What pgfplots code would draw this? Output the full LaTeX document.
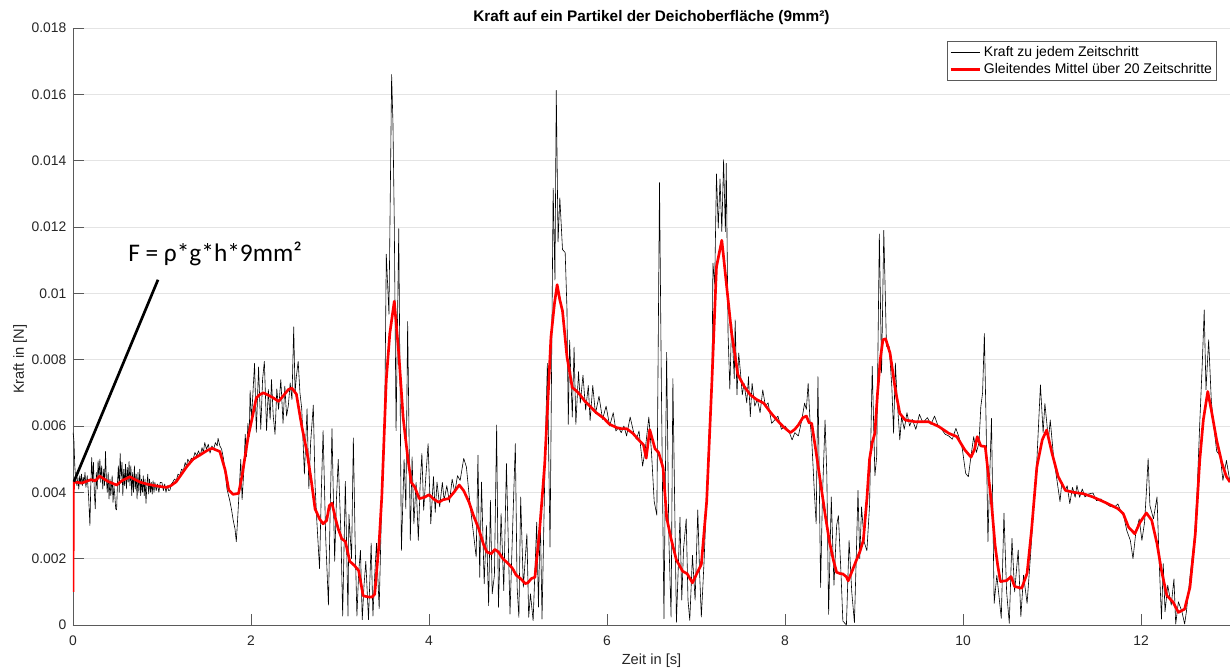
\documentclass[border=0pt]{standalone}
\usepackage{fontspec}
\setmainfont{Liberation Sans}
\newfontfamily\calibri{Carlito}
\usepackage{pgfplots}
\pgfplotsset{compat=1.18}
\usetikzlibrary{calc}

\definecolor{axgray}{RGB}{90,90,90}
\definecolor{txtgray}{RGB}{38,38,38}
\definecolor{gridgray}{RGB}{228,228,228}
\definecolor{mred}{RGB}{255,0,0}

% force per time step (black) and moving average over 20 steps (red)
\pgfplotstableread{
x y
0.000 0.00580
0.010 0.00560
0.020 0.00480
0.030 0.00440
0.045 0.00420
0.055 0.00445
0.065 0.00410
0.075 0.00450
0.085 0.00425
0.095 0.00455
0.105 0.00420
0.115 0.00445
0.125 0.00430
0.135 0.00460
0.145 0.00415
0.160 0.00450
0.175 0.00390
0.190 0.00300
0.200 0.00420
0.210 0.00505
0.220 0.00430
0.230 0.00490
0.240 0.00400
0.250 0.00350
0.262 0.00460
0.272 0.00410
0.282 0.00495
0.292 0.00440
0.302 0.00500
0.312 0.00430
0.322 0.00480
0.335 0.00410
0.345 0.00470
0.355 0.00420
0.365 0.00523
0.375 0.00440
0.385 0.00400
0.395 0.00460
0.405 0.00380
0.415 0.00440
0.425 0.00390
0.440 0.00450
0.450 0.00370
0.460 0.00420
0.470 0.00390
0.480 0.00350
0.490 0.00347
0.500 0.00430
0.510 0.00480
0.520 0.00400
0.530 0.00518
0.540 0.00440
0.550 0.00490
0.560 0.00390
0.570 0.00470
0.580 0.00420
0.590 0.00485
0.600 0.00410
0.610 0.00475
0.620 0.00430
0.630 0.00493
0.640 0.00420
0.650 0.00480
0.660 0.00390
0.670 0.00460
0.680 0.00400
0.690 0.00480
0.700 0.00410
0.710 0.00455
0.720 0.00380
0.730 0.00460
0.740 0.00400
0.750 0.00470
0.760 0.00390
0.770 0.00440
0.780 0.00400
0.790 0.00450
0.800 0.00390
0.810 0.00440
0.820 0.00367
0.830 0.00420
0.840 0.00455
0.850 0.00395
0.860 0.00440
0.870 0.00400
0.880 0.00430
0.890 0.00395
0.900 0.00435
0.910 0.00400
0.920 0.00430
0.935 0.00405
0.950 0.00425
0.965 0.00400
0.980 0.00430
1.000 0.00429
1.015 0.00405
1.030 0.00425
1.045 0.00400
1.060 0.00420
1.075 0.00405
1.090 0.00407
1.105 0.00425
1.120 0.00430
1.140 0.00440
1.160 0.00435
1.180 0.00455
1.200 0.00450
1.220 0.00470
1.240 0.00465
1.260 0.00490
1.275 0.00478
1.290 0.00500
1.310 0.00490
1.330 0.00503
1.350 0.00500
1.370 0.00520
1.390 0.00510
1.410 0.00525
1.430 0.00510
1.450 0.00535
1.465 0.00520
1.480 0.00550
1.500 0.00530
1.520 0.00545
1.540 0.00518
1.560 0.00540
1.580 0.00530
1.600 0.00550
1.620 0.00540
1.630 0.00563
1.650 0.00540
1.670 0.00530
1.690 0.00503
1.710 0.00460
1.730 0.00410
1.760 0.00377
1.780 0.00350
1.800 0.00316
1.820 0.00290
1.835 0.00251
1.850 0.00320
1.870 0.00420
1.885 0.00499
1.900 0.00378
1.920 0.00468
1.935 0.00575
1.950 0.00508
1.965 0.00608
1.980 0.00568
1.990 0.00707
2.005 0.00619
2.040 0.00789
2.060 0.00581
2.085 0.00778
2.110 0.00590
2.130 0.00740
2.150 0.00795
2.175 0.00586
2.195 0.00710
2.215 0.00620
2.230 0.00740
2.250 0.00630
2.270 0.00575
2.290 0.00712
2.310 0.00650
2.335 0.00740
2.360 0.00608
2.380 0.00720
2.400 0.00630
2.420 0.00663
2.440 0.00730
2.460 0.00680
2.480 0.00899
2.495 0.00700
2.510 0.00750
2.530 0.00795
2.550 0.00700
2.570 0.00652
2.600 0.00455
2.630 0.00652
2.650 0.00411
2.670 0.00550
2.700 0.00663
2.720 0.00420
2.740 0.00312
2.770 0.00170
2.790 0.00400
2.810 0.00586
2.840 0.00258
2.870 0.00060
2.890 0.00350
2.910 0.00592
2.940 0.00192
2.960 0.00380
2.980 0.00499
3.010 0.00279
3.030 0.00027
3.060 0.00433
3.090 0.00027
3.100 0.00334
3.130 0.00200
3.150 0.00564
3.170 0.00250
3.190 0.00027
3.210 0.00160
3.230 0.00225
3.250 0.00016
3.270 0.00120
3.290 0.00192
3.320 0.00016
3.350 0.00247
3.370 0.00027
3.390 0.00150
3.410 0.00247
3.440 0.00049
3.470 0.00389
3.500 0.00548
3.520 0.01118
3.550 0.00937
3.580 0.01660
3.595 0.01512
3.610 0.01211
3.630 0.00586
3.660 0.01195
3.690 0.00225
3.720 0.00499
3.740 0.00350
3.760 0.00915
3.790 0.00255
3.810 0.00507
3.830 0.00305
3.855 0.00430
3.880 0.00255
3.900 0.00420
3.920 0.00517
3.940 0.00346
3.965 0.00450
3.990 0.00547
4.020 0.00305
4.050 0.00447
4.070 0.00340
4.090 0.00431
4.120 0.00356
4.150 0.00430
4.170 0.00376
4.200 0.00420
4.230 0.00370
4.260 0.00440
4.290 0.00400
4.320 0.00450
4.350 0.00436
4.390 0.00502
4.420 0.00477
4.460 0.00366
4.500 0.00275
4.530 0.00205
4.550 0.00512
4.570 0.00144
4.590 0.00431
4.620 0.00124
4.645 0.00300
4.670 0.00058
4.690 0.00376
4.710 0.00094
4.735 0.00150
4.760 0.00603
4.780 0.00053
4.810 0.00336
4.840 0.00104
4.870 0.00487
4.910 0.00033
4.940 0.00295
4.970 0.00547
4.990 0.00114
5.010 0.00023
5.030 0.00386
5.060 0.00114
5.100 0.00275
5.120 0.00023
5.140 0.00094
5.170 0.00013
5.210 0.00310
5.230 0.00054
5.250 0.00336
5.270 0.00018
5.310 0.00578
5.330 0.00789
5.360 0.00235
5.380 0.00860
5.395 0.01317
5.415 0.01040
5.430 0.01612
5.450 0.01155
5.470 0.01288
5.500 0.01132
5.530 0.01123
5.550 0.00954
5.565 0.00605
5.580 0.00859
5.610 0.00627
5.630 0.00838
5.650 0.00605
5.680 0.00764
5.700 0.00669
5.730 0.00753
5.760 0.00648
5.790 0.00722
5.810 0.00616
5.840 0.00722
5.870 0.00637
5.910 0.00690
5.950 0.00620
5.990 0.00660
6.030 0.00600
6.070 0.00640
6.100 0.00585
6.130 0.00595
6.160 0.00580
6.190 0.00600
6.220 0.00570
6.260 0.00627
6.300 0.00580
6.330 0.00560
6.360 0.00585
6.400 0.00479
6.430 0.00530
6.470 0.00627
6.500 0.00520
6.530 0.00373
6.560 0.00331
6.590 0.01334
6.610 0.00743
6.640 0.00019
6.670 0.00822
6.695 0.00260
6.720 0.00024
6.740 0.00743
6.780 0.00008
6.820 0.00325
6.840 0.00075
6.860 0.00230
6.890 0.00320
6.910 0.00075
6.930 0.00014
6.960 0.00210
6.990 0.00075
7.020 0.00347
7.040 0.00160
7.060 0.00024
7.090 0.00188
7.120 0.00394
7.150 0.00595
7.180 0.00743
7.190 0.01091
7.210 0.01028
7.230 0.01360
7.250 0.01197
7.270 0.01345
7.290 0.01186
7.310 0.01403
7.330 0.01186
7.340 0.01392
7.360 0.00880
7.380 0.00711
7.400 0.00912
7.430 0.00743
7.440 0.00920
7.460 0.00694
7.480 0.00820
7.500 0.00760
7.520 0.00694
7.540 0.00729
7.570 0.00670
7.590 0.00749
7.610 0.00628
7.630 0.00729
7.660 0.00660
7.690 0.00680
7.720 0.00640
7.750 0.00709
7.780 0.00660
7.810 0.00670
7.850 0.00608
7.890 0.00620
7.920 0.00630
7.960 0.00590
8.000 0.00600
8.050 0.00580
8.080 0.00558
8.110 0.00580
8.150 0.00570
8.190 0.00620
8.220 0.00669
8.240 0.00650
8.260 0.00729
8.280 0.00620
8.300 0.00560
8.330 0.00400
8.350 0.00305
8.370 0.00749
8.400 0.00113
8.420 0.00380
8.450 0.00618
8.470 0.00451
8.490 0.00032
8.520 0.00386
8.550 0.00120
8.580 0.00300
8.600 0.00330
8.630 0.00150
8.650 0.00012
8.690 0.00000
8.720 0.00255
8.750 0.00100
8.780 0.00007
8.800 0.00200
8.820 0.00406
8.840 0.00200
8.860 0.00356
8.890 0.00250
8.920 0.00224
8.950 0.00360
8.980 0.00780
9.010 0.00450
9.030 0.00507
9.060 0.01179
9.085 0.00760
9.110 0.01190
9.140 0.00840
9.170 0.00840
9.200 0.00720
9.220 0.00578
9.240 0.00790
9.260 0.00680
9.290 0.00558
9.310 0.00628
9.340 0.00590
9.370 0.00640
9.400 0.00600
9.430 0.00620
9.470 0.00590
9.510 0.00635
9.550 0.00610
9.600 0.00625
9.640 0.00605
9.680 0.00630
9.720 0.00600
9.760 0.00590
9.800 0.00575
9.840 0.00570
9.880 0.00560
9.920 0.00593
9.950 0.00570
9.990 0.00535
10.030 0.00457
10.060 0.00447
10.090 0.00510
10.120 0.00568
10.150 0.00520
10.180 0.00550
10.200 0.00658
10.220 0.00700
10.240 0.00879
10.260 0.00600
10.280 0.00251
10.300 0.00450
10.320 0.00623
10.350 0.00065
10.380 0.00150
10.430 0.00020
10.460 0.00337
10.490 0.00100
10.520 0.00005
10.550 0.00261
10.580 0.00100
10.620 0.00226
10.650 0.00025
10.680 0.00150
10.720 0.00065
10.760 0.00216
10.800 0.00380
10.830 0.00497
10.870 0.00724
10.900 0.00580
10.920 0.00668
10.960 0.00558
10.980 0.00618
11.020 0.00500
11.050 0.00447
11.090 0.00372
11.110 0.00430
11.150 0.00406
11.170 0.00420
11.200 0.00366
11.230 0.00415
11.260 0.00385
11.280 0.00421
11.310 0.00385
11.340 0.00410
11.370 0.00386
11.410 0.00395
11.460 0.00398
11.500 0.00375
11.550 0.00380
11.600 0.00367
11.650 0.00358
11.700 0.00355
11.740 0.00365
11.770 0.00345
11.800 0.00336
11.840 0.00285
11.880 0.00255
11.910 0.00200
11.940 0.00275
11.980 0.00320
12.010 0.00255
12.040 0.00310
12.060 0.00400
12.080 0.00502
12.100 0.00360
12.140 0.00320
12.180 0.00386
12.200 0.00220
12.230 0.00018
12.250 0.00185
12.270 0.00040
12.300 0.00120
12.340 0.00060
12.370 0.00139
12.390 0.00003
12.420 0.00070
12.460 0.00040
12.490 0.00003
12.510 0.00040
12.550 0.00145
12.600 0.00264
12.630 0.00400
12.660 0.00608
12.690 0.00800
12.710 0.00950
12.730 0.00709
12.760 0.00860
12.790 0.00675
12.820 0.00595
12.850 0.00524
12.890 0.00510
12.920 0.00436
12.960 0.00496
13.000 0.00430
}\rawforce

\pgfplotstableread{
x y
0.000 0.00100
0.005 0.00430
0.050 0.00430
0.100 0.00428
0.150 0.00433
0.200 0.00438
0.250 0.00435
0.300 0.00449
0.350 0.00440
0.400 0.00432
0.490 0.00422
0.550 0.00435
0.640 0.00447
0.700 0.00438
0.760 0.00430
0.830 0.00425
0.900 0.00421
0.970 0.00418
1.050 0.00415
1.100 0.00420
1.160 0.00432
1.220 0.00455
1.280 0.00478
1.350 0.00500
1.430 0.00513
1.500 0.00525
1.560 0.00533
1.650 0.00523
1.710 0.00467
1.750 0.00407
1.800 0.00394
1.860 0.00397
1.900 0.00450
1.940 0.00520
1.970 0.00570
2.010 0.00620
2.060 0.00685
2.100 0.00695
2.140 0.00700
2.200 0.00692
2.250 0.00685
2.310 0.00674
2.360 0.00690
2.420 0.00710
2.460 0.00714
2.510 0.00696
2.570 0.00600
2.630 0.00520
2.680 0.00430
2.720 0.00350
2.770 0.00320
2.810 0.00305
2.850 0.00315
2.880 0.00360
2.910 0.00367
2.950 0.00320
2.980 0.00290
3.020 0.00260
3.060 0.00252
3.110 0.00192
3.160 0.00180
3.210 0.00164
3.260 0.00088
3.310 0.00085
3.360 0.00084
3.390 0.00093
3.440 0.00250
3.470 0.00389
3.520 0.00740
3.560 0.00880
3.610 0.00976
3.660 0.00820
3.710 0.00624
3.760 0.00508
3.800 0.00430
3.840 0.00416
3.890 0.00381
3.950 0.00385
4.000 0.00393
4.050 0.00380
4.110 0.00370
4.160 0.00378
4.220 0.00381
4.280 0.00400
4.340 0.00422
4.390 0.00405
4.450 0.00370
4.500 0.00330
4.560 0.00289
4.610 0.00245
4.650 0.00220
4.700 0.00215
4.740 0.00228
4.780 0.00220
4.830 0.00200
4.890 0.00185
4.940 0.00170
4.980 0.00150
5.030 0.00140
5.080 0.00125
5.110 0.00127
5.150 0.00140
5.190 0.00144
5.240 0.00277
5.270 0.00380
5.300 0.00485
5.340 0.00700
5.370 0.00867
5.410 0.00970
5.440 0.01026
5.470 0.00980
5.500 0.00947
5.550 0.00809
5.610 0.00716
5.660 0.00705
5.700 0.00693
5.750 0.00675
5.810 0.00659
5.880 0.00640
5.960 0.00624
6.030 0.00605
6.110 0.00595
6.160 0.00592
6.220 0.00592
6.290 0.00578
6.350 0.00560
6.410 0.00543
6.440 0.00503
6.480 0.00589
6.510 0.00560
6.540 0.00531
6.580 0.00520
6.630 0.00474
6.670 0.00324
6.720 0.00260
6.780 0.00196
6.850 0.00162
6.900 0.00155
6.960 0.00127
7.000 0.00150
7.060 0.00183
7.120 0.00373
7.180 0.00743
7.230 0.01080
7.290 0.01160
7.350 0.01007
7.400 0.00880
7.440 0.00810
7.470 0.00755
7.540 0.00720
7.610 0.00694
7.680 0.00680
7.760 0.00669
7.840 0.00640
7.910 0.00618
7.980 0.00598
8.060 0.00580
8.110 0.00590
8.150 0.00603
8.200 0.00625
8.240 0.00630
8.270 0.00610
8.300 0.00608
8.350 0.00520
8.390 0.00446
8.450 0.00335
8.500 0.00250
8.540 0.00200
8.580 0.00159
8.620 0.00155
8.650 0.00154
8.690 0.00145
8.710 0.00133
8.750 0.00160
8.800 0.00194
8.840 0.00220
8.880 0.00255
8.920 0.00380
8.950 0.00500
8.980 0.00550
9.010 0.00578
9.040 0.00700
9.070 0.00800
9.100 0.00860
9.130 0.00863
9.180 0.00820
9.240 0.00709
9.290 0.00638
9.350 0.00618
9.460 0.00613
9.610 0.00613
9.730 0.00598
9.840 0.00578
9.930 0.00568
10.020 0.00528
10.090 0.00506
10.130 0.00530
10.160 0.00568
10.200 0.00540
10.250 0.00538
10.320 0.00367
10.360 0.00241
10.390 0.00180
10.420 0.00131
10.490 0.00134
10.540 0.00146
10.580 0.00116
10.660 0.00111
10.720 0.00156
10.770 0.00286
10.830 0.00477
10.890 0.00558
10.940 0.00588
11.000 0.00518
11.070 0.00447
11.150 0.00406
11.240 0.00400
11.350 0.00396
11.460 0.00386
11.610 0.00368
11.740 0.00351
11.800 0.00336
11.860 0.00295
11.930 0.00275
11.990 0.00310
12.060 0.00338
12.120 0.00316
12.180 0.00245
12.230 0.00164
12.290 0.00089
12.360 0.00069
12.420 0.00038
12.490 0.00048
12.550 0.00114
12.610 0.00275
12.660 0.00497
12.700 0.00618
12.750 0.00704
12.790 0.00648
12.850 0.00557
12.910 0.00487
12.960 0.00447
13.000 0.00431
}\movingavg

\begin{document}
\begin{tikzpicture}
\begin{axis}[
  name=ax,
  scale only axis,
  width=867.75pt, height=447.75pt,
  xmin=0, xmax=13, ymin=0, ymax=0.018,
  xtick={0,2,4,6,8,10,12},
  ytick={0,0.002,0.004,0.006,0.008,0.01,0.012,0.014,0.016,0.018},
  scaled y ticks=false,
  yticklabel style={/pgf/number format/fixed, /pgf/number format/precision=3, xshift=-1.5pt},
  xticklabel style={yshift=-4.5pt},
  /pgf/number format/assume math mode=true,
  ticklabel style={font=\fontsize{10.4}{12}\selectfont, text=txtgray},
  axis lines*=left,
  axis line style={axgray, line width=0.6pt},
  tick align=inside,
  major tick length=8pt,
  tick style={axgray, line width=0.6pt},
  ymajorgrids,
  major grid style={gridgray, line width=0.6pt},
  title={Kraft auf ein Partikel der Deichoberfläche (9mm²)},
  title style={font=\bfseries\fontsize{11.5}{13}\selectfont, at={(axis description cs:0.5,1)}, anchor=south, yshift=-7pt},
  xlabel={Zeit in [s]},
  ylabel={Kraft in [N]},
  label style={font=\fontsize{11}{13}\selectfont, text=txtgray},
  xlabel style={at={(axis description cs:0.5,-0.0603)}, anchor=center},
  ylabel style={at={(axis description cs:-0.0458,0.445)}, anchor=center},
  legend style={at={(axis description cs:0.9888,0.978)}, anchor=north east,
    draw=axgray, line width=0.6pt, fill=white,
    font=\fontsize{10.5}{12.5}\selectfont, inner sep=1.5pt, row sep=0pt,
    cells={anchor=west}},
  legend image code/.code={\draw[#1] (0pt,0pt) -- (22pt,0pt);},
]
\addplot[black, line width=0.45pt, line join=round] table[x=x, y=y] {\rawforce};
\addlegendentry{Kraft zu jedem Zeitschritt}
\addplot[mred, line width=2pt, line join=round] table[x=x, y=y] {\movingavg};
\addlegendentry{Gleitendes Mittel über 20 Zeitschritte}

% hydrostatic reference value F = rho*g*h*A
\draw[black, line width=2pt] (axis cs:0.01,0.00432) -- (axis cs:0.955,0.01041);
\node[anchor=base west, inner sep=0pt, font=\calibri\fontsize{19}{22}\selectfont]
  at (axis cs:0.618,0.01096) {F = ρ*g*h*9mm²};
\end{axis}
\pgfresetboundingbox
\path[use as bounding box] ($(ax.south west)+(-54.75pt,-34.5pt)$) rectangle ($(ax.north east)+(0pt,21pt)$);
\end{tikzpicture}
\end{document}
